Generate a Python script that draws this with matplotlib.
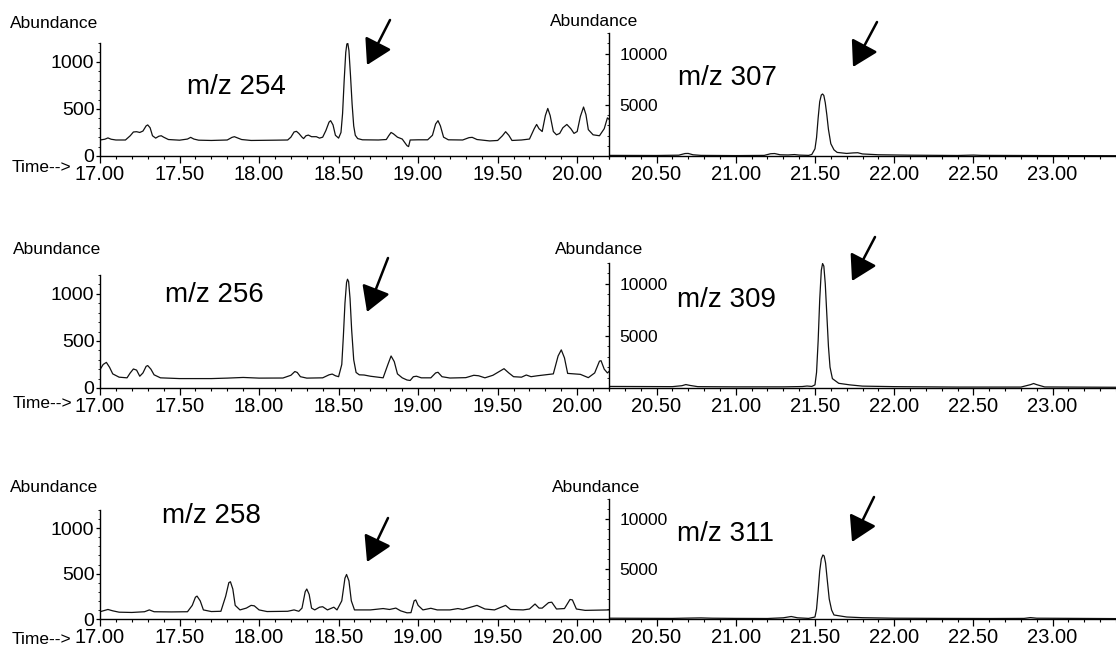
import matplotlib
matplotlib.use("Agg")
import matplotlib.pyplot as plt
from matplotlib.ticker import MultipleLocator, FormatStrFormatter

plt.rcParams['font.family'] = ['Liberation Sans', 'DejaVu Sans']

# ---------------- data ----------------
time_254 = [17.00, 17.03, 17.05, 17.07, 17.10, 17.16, 17.19, 17.21, 17.23, 17.25, 17.27, 17.29, 17.30, 17.315,
            17.33, 17.35, 17.37, 17.385, 17.40, 17.43, 17.50, 17.55, 17.57, 17.59, 17.62, 17.70, 17.80, 17.83,
            17.845, 17.86, 17.89, 17.95, 18.10, 18.18, 18.20, 18.22, 18.235, 18.25, 18.27, 18.28, 18.295, 18.31,
            18.33, 18.36, 18.38, 18.40, 18.42, 18.44, 18.45, 18.465, 18.48, 18.50, 18.515, 18.525, 18.535, 18.545,
            18.552, 18.558, 18.565, 18.575, 18.585, 18.595, 18.605, 18.62, 18.65, 18.75, 18.80, 18.815, 18.83,
            18.845, 18.87, 18.90, 18.93, 18.94, 18.95, 19.00, 19.06, 19.09, 19.11, 19.125, 19.14, 19.16, 19.19,
            19.28, 19.32, 19.34, 19.37, 19.45, 19.50, 19.53, 19.55, 19.57, 19.59, 19.65, 19.70, 19.73, 19.745,
            19.76, 19.78, 19.80, 19.815, 19.83, 19.85, 19.87, 19.89, 19.91, 19.935, 19.96, 19.98, 20.00, 20.02,
            20.04, 20.055, 20.07, 20.10, 20.14, 20.17, 20.19, 20.20]
abund_254 = [170, 178, 192, 178, 170, 170, 215, 255, 258, 250, 265, 320, 330, 300,
             215, 190, 210, 215, 200, 175, 168, 180, 198, 180, 168, 165, 170, 198,
             205, 195, 175, 165, 168, 170, 200, 255, 262, 240, 200, 185, 215, 222,
             205, 205, 190, 200, 270, 360, 375, 330, 220, 190, 250, 450, 800, 1100,
             1190, 1195, 1120, 850, 550, 320, 220, 185, 172, 170, 175, 215, 250,
             235, 200, 180, 110, 100, 170, 172, 172, 220, 340, 375, 320, 200, 172,
             170, 195, 198, 175, 160, 165, 215, 258, 220, 165, 170, 180, 290, 335,
             290, 260, 430, 505, 430, 260, 225, 240, 300, 335, 290, 240, 260, 420,
             520, 440, 280, 225, 215, 290, 405, 390]

time_307 = [20.20, 20.50, 20.64, 20.68, 20.70, 20.73, 20.78, 21.00, 21.18, 21.22, 21.245, 21.28, 21.33, 21.37,
            21.40, 21.46, 21.48, 21.50, 21.51, 21.52, 21.53, 21.54, 21.548, 21.556, 21.565, 21.575, 21.585, 21.60,
            21.62, 21.64, 21.70, 21.74, 21.77, 21.80, 21.90, 22.10, 22.40, 22.50, 22.55, 23.00, 23.40]
abund_307 = [60, 50, 80, 240, 250, 120, 60, 40, 60, 220, 240, 120, 100, 140,
             90, 60, 150, 700, 1800, 3700, 5300, 5950, 6050, 5900, 5200, 4000, 2600, 1200,
             600, 350, 250, 300, 320, 200, 120, 80, 50, 90, 60, 40, 30]

time_256 = [17.00, 17.02, 17.04, 17.06, 17.08, 17.12, 17.17, 17.19, 17.21, 17.23, 17.25, 17.27, 17.29, 17.30,
            17.32, 17.34, 17.38, 17.50, 17.70, 17.80, 17.90, 18.00, 18.15, 18.20, 18.225, 18.24, 18.26, 18.30,
            18.40, 18.44, 18.46, 18.48, 18.50, 18.52, 18.53, 18.54, 18.55, 18.556, 18.563, 18.572, 18.582, 18.595,
            18.61, 18.63, 18.66, 18.70, 18.78, 18.81, 18.83, 18.85, 18.87, 18.90, 18.93, 18.95, 18.97, 18.99,
            19.02, 19.08, 19.11, 19.125, 19.15, 19.20, 19.30, 19.35, 19.38, 19.42, 19.47, 19.51, 19.54, 19.57,
            19.60, 19.65, 19.68, 19.71, 19.75, 19.80, 19.85, 19.88, 19.90, 19.92, 19.94, 19.98, 20.02, 20.07,
            20.11, 20.14, 20.15, 20.17, 20.19, 20.20]
abund_256 = [195, 250, 272, 220, 150, 115, 108, 160, 202, 190, 125, 160, 230, 238,
             200, 140, 108, 100, 100, 105, 112, 105, 106, 135, 175, 165, 120, 105,
             108, 140, 148, 130, 120, 250, 550, 900, 1120, 1155, 1130, 950, 620, 300,
             165, 140, 138, 125, 108, 250, 340, 280, 150, 108, 85, 80, 120, 125,
             108, 108, 160, 167, 120, 106, 110, 135, 130, 108, 135, 175, 205, 160,
             120, 115, 138, 120, 130, 140, 150, 340, 405, 320, 155, 150, 145, 110,
             160, 285, 290, 200, 160, 175]

time_309 = [20.20, 20.40, 20.60, 20.66, 20.685, 20.71, 20.76, 21.00, 21.30, 21.42, 21.45, 21.48, 21.50, 21.51,
            21.52, 21.53, 21.54, 21.548, 21.556, 21.565, 21.575, 21.585, 21.595, 21.61, 21.65, 21.72, 21.80, 22.00,
            22.40, 22.80, 22.86, 22.88, 22.90, 22.95, 23.40]
abund_309 = [150, 140, 130, 220, 330, 250, 130, 110, 110, 140, 190, 150, 300, 1500,
             4500, 8500, 11300, 11950, 11700, 10000, 7000, 4000, 2000, 900, 450, 300, 180, 130,
             90, 90, 320, 430, 320, 100, 70]

time_258 = [17.00, 17.03, 17.05, 17.08, 17.12, 17.20, 17.28, 17.31, 17.34, 17.45, 17.55, 17.58, 17.60, 17.61,
            17.63, 17.65, 17.70, 17.76, 17.79, 17.81, 17.82, 17.835, 17.85, 17.88, 17.92, 17.95, 17.97, 18.00,
            18.05, 18.18, 18.22, 18.25, 18.27, 18.29, 18.30, 18.315, 18.33, 18.35, 18.38, 18.40, 18.43, 18.47,
            18.49, 18.52, 18.54, 18.55, 18.565, 18.58, 18.60, 18.70, 18.78, 18.82, 18.86, 18.89, 18.93, 18.955,
            18.975, 18.985, 19.00, 19.03, 19.08, 19.12, 19.20, 19.25, 19.28, 19.33, 19.37, 19.42, 19.48, 19.55,
            19.58, 19.66, 19.70, 19.735, 19.76, 19.78, 19.82, 19.84, 19.87, 19.92, 19.955, 19.97, 19.995, 20.05,
            20.20]
abund_258 = [80, 95, 105, 90, 75, 72, 80, 100, 80, 78, 80, 150, 240, 252,
             200, 100, 82, 85, 250, 400, 410, 330, 150, 100, 120, 150, 145, 100,
             82, 85, 100, 85, 120, 300, 330, 270, 120, 100, 130, 135, 100, 130,
             100, 200, 450, 490, 420, 200, 100, 100, 115, 105, 120, 90, 68, 70,
             200, 210, 150, 100, 118, 100, 100, 115, 105, 130, 150, 110, 100, 150,
             105, 100, 110, 165, 120, 120, 180, 185, 110, 115, 215, 210, 110, 95,
             100]

time_311 = [20.20, 20.40, 20.60, 20.70, 20.78, 20.85, 21.00, 21.20, 21.30, 21.35, 21.39, 21.46, 21.50, 21.51,
            21.52, 21.53, 21.54, 21.55, 21.558, 21.567, 21.577, 21.59, 21.605, 21.62, 21.70, 21.80, 22.00, 22.30,
            22.60, 22.82, 22.86, 22.90, 23.40]
abund_311 = [80, 70, 60, 90, 110, 80, 60, 50, 120, 250, 120, 60, 200, 1000,
             2800, 4800, 6000, 6400, 6300, 5600, 4000, 2000, 900, 400, 200, 130, 80, 60,
             50, 60, 140, 80, 40]

left_labels = ["m/z 254", "m/z 256", "m/z 258"]
right_labels = ["m/z 307", "m/z 309", "m/z 311"]
left_series = [(time_254, abund_254), (time_256, abund_256), (time_258, abund_258)]
right_series = [(time_307, abund_307), (time_309, abund_309), (time_311, abund_311)]

left_xticks = [17.00, 17.50, 18.00, 18.50, 19.00, 19.50, 20.00]
right_xticks = [20.50, 21.00, 21.50, 22.00, 22.50, 23.00]
left_yticks = [0, 500, 1000]
right_yticks = [5000, 10000]

# ---------------- layout (pixels) ----------------
W, H = 1116, 650
fig = plt.figure(figsize=(W / 100, H / 100), dpi=100)

def add_px_axes(l, t, r, b):
    return fig.add_axes([l / W, 1 - b / H, (r - l) / W, (b - t) / H])

left_boxes = [(100, 43, 609, 156), (100, 275, 609, 388), (100, 510, 609, 619)]
right_boxes = [(609, 33, 1116, 156), (609, 263, 1116, 388), (609, 499, 1116, 619)]

line_kw = dict(color='#111111', lw=0.9)

def style_common(ax):
    for s in ('top', 'right'):
        ax.spines[s].set_visible(False)
    for s in ('left', 'bottom'):
        ax.spines[s].set_linewidth(1.0)
    ax.xaxis.set_minor_locator(MultipleLocator(0.1))
    ax.xaxis.set_major_formatter(FormatStrFormatter('%.2f'))
    ax.tick_params(axis='x', which='major', direction='out', length=5, width=0.9, pad=1.5, labelsize=14.5)
    ax.tick_params(axis='x', which='minor', direction='out', length=2.5, width=0.8)
    ax.patch.set_alpha(0)

for i in range(3):
    # left panel
    ax = add_px_axes(*left_boxes[i])
    t, a = left_series[i]
    ax.plot(t, a, **line_kw)
    ax.set_xlim(17.0, 20.2)
    ax.set_ylim(0, 1200)
    style_common(ax)
    ax.set_xticks(left_xticks)
    ax.set_yticks(left_yticks)
    ax.yaxis.set_minor_locator(MultipleLocator(100))
    ax.tick_params(axis='y', which='major', direction='out', length=3, width=0.9, pad=1, labelsize=14)
    ax.tick_params(axis='y', which='minor', direction='out', length=1.5, width=0.6)

    # right panel
    axr = add_px_axes(*right_boxes[i])
    t, a = right_series[i]
    axr.plot(t, a, **line_kw)
    axr.set_xlim(20.2, 23.4)
    axr.set_ylim(0, 12000)
    style_common(axr)
    axr.set_xticks(right_xticks)
    axr.set_yticks(right_yticks)
    axr.yaxis.set_minor_locator(MultipleLocator(1000))
    axr.tick_params(axis='y', which='major', direction='out', length=3, width=0.9, pad=-10.5, labelsize=12.5)
    axr.tick_params(axis='y', which='minor', direction='out', length=1.5, width=0.6)
    for lbl in axr.get_yticklabels():
        lbl.set_horizontalalignment('left')

def ftext(x, y, s, **kw):
    fig.text(x / W, 1 - y / H, s, **kw)

# "Abundance" labels
for x, y in [(10, 23), (550, 22), (13, 250), (555, 250), (10, 488), (552, 488)]:
    ftext(x, y, "Abundance", fontsize=12.5, ha='left', va='center')

# "Time-->" labels
for x, y in [(12, 167), (13, 403), (12, 640)]:
    ftext(x, y, "Time-->", fontsize=12.5, ha='left', va='center')

# m/z labels
for (x, y), s in zip([(187, 87), (165, 295), (162, 516)], left_labels):
    ftext(x, y, s, fontsize=20, ha='left', va='center')
for (x, y), s in zip([(678, 78), (677, 300), (677, 534)], right_labels):
    ftext(x, y, s, fontsize=20, ha='left', va='center')

# arrows (tail -> tip, figure pixels from top)
arrows = [((390, 20), (367, 65)), ((877, 22), (853, 67)),
          ((388, 258), (367, 312)), ((875, 237), (852, 281)),
          ((388, 518), (367, 562)), ((874, 497), (852, 542))]
for (x0, y0), (x1, y1) in arrows:
    fig.axes[0].annotate('', xy=(x1, H - y1), xytext=(x0, H - y0),
                         xycoords='figure pixels', textcoords='figure pixels',
                         arrowprops=dict(arrowstyle='-|>,head_length=0.85,head_width=0.5',
                                         mutation_scale=18, lw=1.8, color='black',
                                         shrinkA=0, shrinkB=0),
                         annotation_clip=False)

fig.savefig("out.png", dpi=100)
